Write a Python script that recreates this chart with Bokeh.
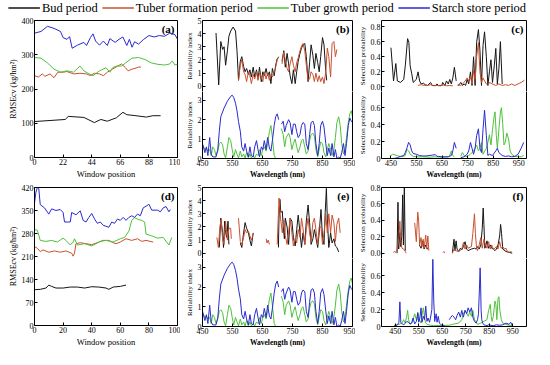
import numpy as np
from bokeh.plotting import figure
from bokeh.models import Range1d, FixedTicker, Label, Legend, LegendItem, LinearAxis
from bokeh.layouts import column, row
from bokeh.embed import file_html
from bokeh.resources import INLINE

nan = float("nan")

# ---------------- data ----------------
SERIES = ["Bud period", "Tuber formation period", "Tuber growth period", "Starch store period"]
COLORS = ["#151515", "#c9502f", "#4dc23b", "#2a2ad0"]

# (a) RMSEcv vs window position
a_bud_x = [0, 23.6, 26, 38, 46, 51, 56, 63, 68, 71, 78, 86, 91, 97]
a_bud_y = [105, 111, 120, 117, 102, 111, 106, 116, 132, 125, 122, 118, 122, 122]
a_form_x = [0, 3, 6, 8, 12, 15, 18, 22, 25, 30, 35, 40, 43, 46, 50, 53, 56, 60, 64, 67, 70, 72, 75, 78, 80, 82]
a_form_y = [239, 235, 244, 237, 244, 233, 249, 249, 251, 244, 246, 244, 239, 246, 244, 239, 249, 258, 267, 273, 262, 253, 258, 261, 264, 264]
a_grow_x = [0, 5, 10, 15, 20, 25, 30, 35, 38, 42, 45, 50, 55, 58, 60, 63, 67, 70, 75, 80, 85, 90, 95, 100, 104, 106, 108, 110]
a_grow_y = [292, 290, 276, 258, 249, 253, 249, 267, 253, 244, 239, 253, 262, 249, 262, 267, 267, 276, 290, 292, 286, 276, 272, 270, 273, 282, 270, 272]
a_star_x = [0, 5, 10, 15, 20, 22, 25, 27, 29, 33, 38, 40, 43, 45, 47, 50, 53, 56, 58, 62, 65, 68, 71, 73, 75, 77, 80, 84, 88, 92, 96, 100, 104, 108, 110]
a_star_y = [363, 368, 383, 377, 368, 350, 345, 353, 319, 328, 336, 327, 350, 361, 340, 328, 340, 327, 347, 336, 345, 352, 327, 345, 322, 338, 331, 345, 356, 352, 356, 354, 363, 359, 345]
a_xticks = [0, 22, 44, 66, 88, 110]
a_yticks = [0, 100, 200, 300, 400]

# (d) RMSEcv vs window position
d_bud_x = [0, 4, 8, 10, 12, 15, 20, 25, 30, 35, 40, 45, 50, 52, 55, 60, 64]
d_bud_y = [109, 110, 114, 123, 119, 114, 114, 117, 117, 114, 118, 117, 114, 110, 117, 119, 123]
d_form_x = [0, 2, 4, 6, 10, 14, 18, 22, 26, 27, 28, 29, 32, 36, 40, 44, 48, 52, 54, 57, 60, 64, 68, 72, 75, 78, 83]
d_form_y = [240, 235, 225, 230, 223, 227, 223, 227, 220, 211, 220, 249, 252, 249, 246, 252, 259, 259, 254, 249, 254, 264, 259, 264, 256, 259, 254]
d_grow_x = [0, 2, 4, 8, 12, 16, 20, 22, 25, 27, 28, 30, 35, 40, 43, 46, 50, 55, 60, 63, 66, 68, 70, 73, 75, 77, 78, 82, 86, 90, 92, 94, 96]
d_grow_y = [292, 290, 259, 256, 259, 254, 266, 259, 245, 254, 264, 245, 249, 242, 249, 256, 259, 254, 264, 268, 287, 320, 328, 322, 320, 315, 278, 273, 266, 268, 256, 245, 268]
d_star_x = [0, 1, 2, 3, 4, 7, 10, 12, 15, 18, 20, 21, 25, 26, 29, 32, 34, 36, 38, 40, 42, 44, 46, 48, 50, 52, 54, 56, 58, 60, 62, 64, 66, 68, 70, 72, 74, 76, 78, 80, 82, 86, 88, 90, 92, 94, 95]
d_star_y = [373, 406, 420, 417, 368, 358, 339, 355, 350, 353, 344, 315, 315, 344, 337, 349, 320, 315, 329, 341, 324, 311, 315, 305, 302, 299, 315, 311, 324, 320, 329, 320, 329, 334, 329, 339, 334, 358, 363, 369, 351, 351, 346, 358, 362, 346, 353]
d_xticks = [0, 20, 40, 60, 80, 100]
d_yticks = [0, 70, 140, 210, 280, 350, 420]

wl_ticks = [450, 550, 650, 750, 850, 950]

# (b) reliability index: upper = bud / tuber formation, lower = tuber growth / starch store
b_bud_nm = [495, 504, 511, 517, 522, 527, 533, 538, 544, 552, 560, 565, 570, 576, 581, 587, 592, 597, 603, 608,
            613, 619, 624, 630, 635, 640, 646, 651, 656, 662, 667, 673, 678, 683, 689, 694, 699, 704, nan,
            715, 721, 726, 732, 737, 742, 748, 753, 759, 764, 769, 775, 780, 785, 791, 796, 802, 807, 812, 818,
            823, 828, 834, 839, 844, 850, 855, 861, 864]
b_bud_ri = [4.05, 0.1, 3.4, 2.8, 3.0, 1.6, 2.7, 3.8, 4.2, 4.5, 4.2, 2.7, 0.45, 1.9, 2.25, 1.5, 1.1, 1.35, 0.9, 1.25,
            0.7, 1.45, 0.7, 1.25, 0.55, 1.45, 0.35, 1.1, 0.8, 1.35, 0.8, 1.1, 0.2, 1.35, 0.8, 1.6, 2.1, 2.2, nan,
            1.9, 2.7, 1.45, 2.5, 1.7, 0.8, 0.2, 1.25, 0.2, 1.1, 1.9, 2.5, 2.9, 3.15, 3.25, 2.25, 0.35, 1.8, 3.15, 2.35,
            1.35, 2.5, 1.8, 1.1, 2.25, 3.7, 3.15, 1.1, 0.45]
b_form_nm = [570, 576, 581, 587, 592, 597, 603, 608, 613, 619, 624, 630, 635, 640, 646, 651, 656, 662, 667, 673,
             678, 683, 689, 694, 699, 704, nan,
             715, 721, 726, 732, 737, 742, 748, 753, 759, 764, 769, 775, 780, 785, 791, 796, 802, 807, 812, 818,
             823, 828, 834, 839, 844, 850, 855, 861, 866, 871, 877, 882, 888, 893, 898]
b_form_ri = [0.45, 1.6, 2.0, 1.1, 0.9, 0.35, 1.1, 0.8, 0.2, 0.9, 0.55, 1.1, 0.45, 1.0, 0.7, 0.35, 1.1, 0.55, 1.0, 0.45,
             0.9, 0.7, 1.1, 1.45, 2.0, 2.25, nan,
             1.7, 2.6, 2.0, 1.35, 1.1, 1.7, 2.25, 1.6, 1.1, 1.8, 2.15, 2.7, 3.05, 3.25, 2.7, 1.6, 0.45, 0.55, 1.1, 0.9,
             0.35, 1.0, 0.35, 0.8, 0.35, 0.7, 0.2, 1.1, 2.9, 2.25, 0.7, 3.25, 3.4, 2.25, 2.8]
b_star_nm = [450, 458, 463, 468, 474, 479, 484, 495, 501, 506, 511, 522, 533, 544, 549, 554, 560, 565, 570, 576,
             581, 587, 592, 597, 603, 608, 613, 619, 624, 630, 635, 640, 646, 651, 656, 662, 667, 673, 678, 683,
             689, 694, 699, 704, nan,
             713, 719, 724, 729, 737, 742, 748, 753, 759, 764, 769, 775, 780, 785, 791, 796, 802, 807, 812, 818,
             823, 828, 834, 839, 844, 850, 855, 861, 866, 871, 877, 882, 888, 893, 898, 904, 909, 914, 920, 925,
             930, 936, 941, 946, 950]
b_star_ri = [0.77, 0.3, 0.6, 0.15, 1.08, 0.23, 0.08, 0.08, 0.46, 1.4, 2.15, 2.6, 2.95, 3.2, 3.26, 3.15, 2.85, 2.45, 1.9, 1.4,
             0.6, 0.38, 0.77, 0.38, 0.08, 0.6, 0.15, 0.08, 0.6, 0.92, 0.46, 0.08, 0.6, 0.46, 0.92, 0.46, 1.08, 0.54, 0.38, 0.92,
             1.7, 2.15, 2.3, 2.0, nan,
             1.77, 1.92, 1.38, 1.7, 2.0, 1.85, 1.23, 1.77, 1.77, 1.38, 1.08, 1.23, 1.7, 1.85, 1.77, 0.77, 0.46, 1.23, 1.85, 1.92,
             1.7, 0.77, 0.15, 0.77, 1.7, 1.92, 1.62, 0.77, 0.15, 0.54, 0.15, 0.77, 0.08, 0.46, 0.0, 0.08, 0.0, 0.3, 0.77, 0.15,
             0.77, 1.7, 2.08, 1.92, 1.85]
b_grow_nm = [450, 458, 463, 468, 474, 479, 484, 490, 495, 501, 506, 511, 517, 522, 527, 533, 538, 544, 549, 554,
             560, 565, 570, 576, 581, 587, 592, 597, 603, 608, 613, 619, 624, 630, 635, 640, 646, 651, 656, 662,
             667, 673, 678, 683, 689, 694, nan,
             713, 719, 724, 729, 737, 742, 748, 753, 759, 764, 769, 775, 780, 785, 791, 796, 802, 807, 812, 818,
             823, 828, 834, 839, 844, 850, 855, 861, 866, 871, 877, 882, 888, 893, 898, 904, 909, 914, 920, 925,
             930, 936, 941, 946, 950]
b_grow_ri = [0.7, 0.46, 0.54, 0.38, 0.46, 0.15, 0.6, 0.46, 0.15, 0.38, 0.77, 0.85, 0.7, 0.23, 0.03, 0.6, 1.08, 0.92, 0.46, 0.08,
             0.46, 0.23, 0.03, 0.38, 0.08, 0.23, 0.03, 0.3, 0.03, 0.23, 0.03, 0.15, 0.03, 0.23, 0.15, 0.46, 0.15, 0.46, 0.6, 0.38,
             0.77, 1.38, 1.7, 1.08, 0.15, 0.0, nan,
             1.54, 1.23, 0.6, 1.08, 1.3, 1.08, 0.46, 0.77, 1.0, 0.6, 0.3, 0.6, 0.92, 1.0, 0.6, 0.23, 0.38, 0.92, 1.23, 1.3,
             1.15, 0.46, 0.08, 0.46, 0.85, 0.77, 0.3, 0.08, 0.46, 0.77, 0.46, 0.15, 0.46, 1.08, 1.85, 2.15, 1.7, 0.77, 0.23, 0.46,
             1.08, 1.85, 2.3, 2.46, 2.15]

# (e) reliability index (lower part identical to (b))
e_bud_nm = [506, 511, 517, 520, 524, 527, 531, 535, 538, nan,
            576, 581, 587, 592, 597, 603, 608, 613, 619, nan,
            703, 705, 708, 711, 716, 719, 723, 726, 732, 737, 742, 748, 753, 759, 764, 769, 775, 780, 785, 791,
            796, 802, 807, 812, 818, 823, 828, 834, 839, 845, 850, 855, 859, 863, 866, 871, 877, 882, 888, 893, 898, 904]
e_bud_ri = [0.44, 2.67, 1.56, 0.44, 2.44, 1.56, 1.2, 2.44, 0.67, nan,
            0.78, 0.44, 1.55, 2.33, 1.9, 1.55, 1.0, 0.55, 1.55, nan,
            0.44, 2.67, 4.1, 3.1, 3.2, 2.1, 1.1, 2.67, 2.0, 0.67, 2.67, 2.44, 1.2, 0.55, 1.8, 2.9, 1.55, 0.44, 1.55, 0.67,
            2.44, 3.67, 2.33, 0.67, 1.1, 1.8, 1.2, 0.44, 1.55, 3.33, 1.2, 0.67, 3.1, 4.93, 2.67, 0.44, 1.55, 0.78, 1.1, 0.55, 0.44, 0.1]
e_form_nm = [498, 503, 508, 512, 517, 522, 527, 533, 538, 544, 546, nan,
             570, 576, 581, 587, 592, 597, 603, 608, 613, 619, nan,
             662, 665, 669, 673, nan,
             699, 705, 710, 716, 721, 726, 732, 737, 742, 748, 753, 759, 764, 769, 775, 780, 785, 791, 796, 802,
             807, 812, 818, 823, 828, 834, 839, 845, 850, 855, 861, 866, 871, 877, 882, 888, 893, 898, 904, 909]
e_form_ri = [1.2, 0.44, 2.0, 2.55, 1.1, 0.67, 2.44, 1.0, 1.9, 1.9, 1.1, nan,
             2.67, 0.9, 0.67, 1.2, 1.8, 1.55, 1.67, 1.33, 1.0, 1.45, nan,
             1.1, 0.78, 1.0, 0.67, nan,
             0.67, 4.2, 2.67, 1.55, 2.55, 1.33, 0.67, 1.55, 2.67, 1.55, 0.55, 1.1, 0.78, 1.8, 1.2, 2.67, 1.9, 0.67, 1.8, 2.67,
             1.55, 0.9, 2.33, 2.67, 1.8, 0.67, 2.0, 2.0, 0.67, 1.55, 2.9, 1.55, 3.0, 1.55, 2.9, 2.33, 0.9, 2.2, 2.67, 1.55]

ri_up_ticks = [0, 1, 2, 3, 4, 5]
ri_up_labels = ["0", "1", "2", "3", "4", "5"]
ri_lo_ticks = [0, 1, 2, 3]
ri_lo_labels = ["0", "1", "2", "3"]

# (c) selection probability
c_bud_nm = [450, 460, 469, 475, 487, 500, 506, 515, 520, 525, 531, 537, 549, 556, 562, 568, 577, 584, 593, 605,
            611, 624, 630, 636, 649, 652, 661, 667, 674, 680, 686, 692, 698, 702, 705, nan,
            711, 717, 723, 730, 736, 742, 748, 754, 761, 767, 773, 779, 785, 792, 798, 804, 810, 816, 823, 829,
            835, 841, 847, 854, 860, 866, 872, 878, 885]
c_bud_sp = [0.52, 0.08, 0.31, 0.08, 0.06, 0.1, 0.28, 0.64, 0.59, 0.28, 0.18, 0.06, 0.1, 0.2, 0.08, 0.04, 0.05, 0.03, 0.02, 0.06,
            0.02, 0.02, 0.04, 0.02, 0.02, 0.06, 0.02, 0.08, 0.04, 0.1, 0.04, 0.12, 0.26, 0.16, 0.08, nan,
            0.02, 0.03, 0.06, 0.02, 0.04, 0.02, 0.1, 0.04, 0.2, 0.02, 0.4, 0.02, 0.59, 0.76, 0.48, 0.02, 0.55, 0.73, 0.4, 0.02,
            0.2, 0.36, 0.06, 0.28, 0.51, 0.04, 0.24, 0.6, 0.04]
c_form_nm = [556, 568, 581, 593, 605, 618, 630, 643, 655, 667, 680, 692, nan,
             711, 723, 736, 748, 754, 761, 767, 773, 779, 785, 792, 798, 804, 810, 816, 823, 829, 835, 847, 860,
             872, 885, 897, 910, 922, 934, 947, 959, 972]
c_form_sp = [0.02, 0.03, 0.02, 0.02, 0.03, 0.015, 0.02, 0.015, 0.025, 0.015, 0.02, 0.015, nan,
             0.03, 0.02, 0.06, 0.12, 0.08, 0.14, 0.04, 0.22, 0.1, 0.4, 0.59, 0.2, 0.06, 0.12, 0.08, 0.04, 0.02, 0.06, 0.04, 0.02,
             0.04, 0.02, 0.03, 0.02, 0.04, 0.02, 0.04, 0.06, 0.09]
c_star_nm = [450, 462, 475, 487, 500, 506, 512, 519, 525, 531, 537, 549, 562, 574, 587, 599, 611, 624, 630, 636,
             649, 661, 674, 686, 692, 698, 705, nan,
             723, 736, 748, 754, 761, 767, 773, 779, 785, 792, 798, 804, 810, 816, 823, 829, 835, 847, 860, 866,
             872, 885, 897, 910, 922, 934, 947, 959, 969]
c_star_sp = [0.0, 0.0, 0.01, 0.025, 0.035, 0.07, 0.12, 0.19, 0.16, 0.09, 0.06, 0.05, 0.035, 0.03, 0.03, 0.035, 0.04, 0.045, 0.025, 0.025,
             0.02, 0.02, 0.02, 0.035, 0.09, 0.19, 0.12, nan,
             0.01, 0.02, 0.05, 0.09, 0.19, 0.12, 0.05, 0.12, 0.27, 0.35, 0.12, 0.07, 0.34, 0.57, 0.27, 0.035, 0.05, 0.035, 0.09, 0.12,
             0.07, 0.035, 0.025, 0.03, 0.02, 0.025, 0.05, 0.12, 0.19]
c_grow_nm = [450, 456, 462, 475, 487, 500, 506, 512, 519, 525, 537, 549, 574, 599, 624, 649, 674, 680, 686, 692, 698, nan,
             723, 729, 736, 748, 761, 773, 785, 792, 798, 804, 810, 823, 829, 835, 841, 847, 854, 857, 862, 866,
             872, 878, 882, 887, 892, 897, 903, 910, 916, 922, 934, 947, 959, 969]
c_grow_sp = [0.035, 0.05, 0.045, 0.035, 0.02, 0.025, 0.035, 0.11, 0.09, 0.05, 0.025, 0.02, 0.02, 0.015, 0.02, 0.015, 0.02, 0.035, 0.09, 0.035, 0.02, nan,
             0.025, 0.07, 0.035, 0.02, 0.05, 0.09, 0.16, 0.09, 0.12, 0.19, 0.05, 0.12, 0.19, 0.28, 0.16, 0.34, 0.51, 0.55, 0.27, 0.12,
             0.34, 0.55, 0.6, 0.41, 0.16, 0.19, 0.3, 0.23, 0.09, 0.05, 0.025, 0.02, 0.02, 0.035]

# (f) selection probability
f_bud_nm = [458, 462, 465, 470, 474, 478, 482, 485, 489, 493, nan,
            553, 560, 567, 573, 580, 587, 591, nan,
            693, 700, 704, 709, 713, 720, 727, 733, 740, 747, 754, 760, 774, 787, 794, 800, 807, 814, 820, 824,
            827, 831, 836, 840, 847, 854, 860, 867, 874, 880, 887, 894, 898, 902, 907, 921, 934, 947]
f_bud_sp = [0.0, 0.62, 0.05, 0.25, 0.08, 0.2, 0.71, 0.1, 0.8, 0.03, nan,
            0.1, 0.06, 0.15, 0.05, 0.1, 0.05, 0.06, nan,
            0.0, 0.17, 0.03, 0.15, 0.05, 0.02, 0.06, 0.04, 0.08, 0.14, 0.05, 0.03, 0.05, 0.06, 0.05, 0.08, 0.05, 0.1, 0.3, 0.55,
            0.35, 0.06, 0.1, 0.15, 0.06, 0.1, 0.06, 0.05, 0.03, 0.05, 0.1, 0.21, 0.35, 0.24, 0.05, 0.02, 0.01, 0.0]
f_form_nm = [442, 446, 453, 459, 466, 470, 474, 479, 486, 493, 497, nan,
             533, 540, 546, 550, 554, 560, 564, 569, 573, 580, 584, 589, 593, nan,
             654, 657, 660, nan,
             693, 700, 707, 720, 733, 740, 747, 754, 760, 774, 780, 787, 791, 796, 800, 807, 814, 820, 827, 834,
             840, 847, 854, 860, 867, 874, 880, 887, 894, 900, 907, 914, 921, 927, 934, 941, 947]
f_form_sp = [0.01, 0.02, 0.01, 0.05, 0.19, 0.39, 0.14, 0.06, 0.05, 0.02, 0.0, nan,
             0.37, 0.14, 0.5, 0.39, 0.1, 0.19, 0.08, 0.17, 0.06, 0.22, 0.05, 0.21, 0.03, nan,
             0.01, 0.02, 0.0, nan,
             0.0, 0.05, 0.03, 0.02, 0.05, 0.13, 0.05, 0.1, 0.06, 0.08, 0.24, 0.48, 0.24, 0.06, 0.03, 0.1, 0.19, 0.06, 0.17, 0.1,
             0.06, 0.14, 0.05, 0.1, 0.05, 0.06, 0.08, 0.05, 0.14, 0.06, 0.08, 0.05, 0.06, 0.02, 0.01, 0.02, 0.01]
f_star_nm = [446, 453, 460, 466, 470, 474, 480, 487, 493, 500, 506, 513, 520, 526, 533, 540, 546, 550, 555, 560,
             564, 570, 575, 580, 585, 590, 596, 600, 606, 610, 614, 618, 624, 628, 633, 638, 645, 652, 660, nan,
             680, 687, 693, 700, 707, 713, 720, 727, 733, 740, 747, 754, 760, 767, 774, 780, 787, 794, 800, 804,
             808, 811, 813, 815, 818, 822, 827, 834, 840, 847, 854, 867, 880, 894, 907, 921, 934, 941, 947]
f_star_sp = [0.01, 0.01, 0.02, 0.05, 0.29, 0.05, 0.03, 0.02, 0.04, 0.06, 0.05, 0.03, 0.04, 0.1, 0.03, 0.06, 0.16, 0.05, 0.1, 0.22,
             0.05, 0.12, 0.08, 0.24, 0.06, 0.1, 0.05, 0.1, 0.2, 0.79, 0.3, 0.06, 0.15, 0.05, 0.12, 0.04, 0.02, 0.01, 0.01, nan,
             0.08, 0.11, 0.13, 0.11, 0.08, 0.13, 0.17, 0.11, 0.19, 0.11, 0.19, 0.15, 0.22, 0.17, 0.22, 0.11, 0.06, 0.04, 0.08, 0.15,
             0.44, 0.69, 0.5, 0.2, 0.08, 0.04, 0.02, 0.015, 0.01, 0.02, 0.015, 0.01, 0.02, 0.015, 0.02, 0.04, 0.025, 0.05, 0.015]
f_grow_nm = [446, 466, 479, 486, 493, 499, 503, 507, 513, 520, 526, 533, 540, 544, 546, 553, 560, 566, 570, 576,
             580, 586, 600, 613, 680, 693, 720, 733, 740, 747, 754, 760, 767, 774, 780, 787, 800, 814, 827, 840,
             847, 854, 858, 862, 867, 874, 878, 882, 887, 891, 895, 901, 907, 921, 934, 947]
f_grow_sp = [0.015, 0.025, 0.04, 0.08, 0.04, 0.12, 0.19, 0.08, 0.025, 0.04, 0.08, 0.15, 0.08, 0.08, 0.17, 0.08, 0.04, 0.17, 0.22, 0.08,
             0.04, 0.025, 0.015, 0.01, 0.015, 0.025, 0.04, 0.08, 0.15, 0.19, 0.15, 0.12, 0.17, 0.12, 0.19, 0.08, 0.025, 0.04, 0.06, 0.08,
             0.19, 0.26, 0.12, 0.06, 0.12, 0.3, 0.26, 0.08, 0.33, 0.35, 0.19, 0.08, 0.04, 0.025, 0.015, 0.01]

sp_up_ticks = [0.0, 0.2, 0.4, 0.6, 0.8]
sp_up_labels = ["0.0", "0.2", "0.4", "0.6", "0.8"]
sp_lo_ticks = [0.0, 0.2, 0.4, 0.6]
sp_lo_labels = ["0", "0.2", "0.4", "0.6"]

# ---------------- styling / layout ----------------
FONT = "Liberation Serif"
TICK_FS = "8px"
W1, W2, W3 = 180, 175, 179
LW = 1.0


def style_axis(ax):
    ax.axis_line_color = "black"
    ax.major_tick_in = 3
    ax.major_tick_out = 0
    ax.minor_tick_line_color = None
    ax.major_tick_line_color = "black"
    ax.major_label_text_font = FONT
    ax.major_label_text_font_size = TICK_FS
    ax.major_label_text_color = "black"
    ax.major_label_standoff = 1
    ax.axis_label_text_font = FONT
    ax.axis_label_text_font_style = "normal"
    ax.axis_label_text_color = "black"
    ax.axis_label_standoff = 1


def bare_axis(side, p):
    ax = LinearAxis(ticker=FixedTicker(ticks=[]), axis_line_color="black",
                    major_tick_in=0, major_tick_out=0, minor_tick_line_color=None,
                    major_label_text_font_size="0px", major_label_standoff=0)
    p.add_layout(ax, side)


def letter(p, txt, x, y):
    p.add_layout(Label(x=x, y=y, x_offset=-3, y_offset=-2, text=txt, text_align="right",
                       text_baseline="top", text_font=FONT, text_font_size="11px",
                       text_font_style="bold", text_color="black"))


def rmse_panel(w, h, xr, yr, xticks, yticks, series, txt, bt, bb):
    p = figure(width=w, height=h, x_range=Range1d(*xr), y_range=Range1d(*yr),
               output_backend="svg", toolbar_location=None,
               min_border_left=34, min_border_right=3, min_border_top=bt, min_border_bottom=bb)
    p.xgrid.visible = False
    p.ygrid.visible = False
    p.outline_line_color = "black"
    for ax in p.xaxis + p.yaxis:
        style_axis(ax)
    p.xaxis.ticker = FixedTicker(ticks=xticks)
    p.yaxis.ticker = FixedTicker(ticks=yticks)
    p.xaxis.axis_label = "Window position"
    p.yaxis.axis_label = "RMSEcv (kg/hm²)"
    p.xaxis.axis_label_text_font_size = "8.5px"
    p.yaxis.axis_label_text_font_size = "8px"
    for (x, y), c in zip(series, COLORS):
        p.line(np.array(x, dtype=float), np.array(y, dtype=float), line_color=c, line_width=LW)
    letter(p, txt, xr[1], yr[1])
    return p


def spectral_panel(w, bl, br, bt, bb, frame_h, xr, up, lo, up_ticks, up_labels, lo_ticks, lo_labels,
                   upper, lower, ylab, txt):
    fu = frame_h // 2
    fl = frame_h - fu
    xrange_ = Range1d(*xr)
    # upper half
    pu = figure(width=w, height=bt + fu, x_range=xrange_, y_range=Range1d(*up),
                output_backend="svg", toolbar_location=None, x_axis_location=None,
                min_border_left=bl, min_border_right=br, min_border_top=bt, min_border_bottom=0)
    # lower half
    pl = figure(width=w, height=fl + bb, x_range=xrange_, y_range=Range1d(*lo),
                output_backend="svg", toolbar_location=None,
                min_border_left=bl, min_border_right=br, min_border_top=0, min_border_bottom=bb)
    for p, ticks, labels in ((pu, up_ticks, up_labels), (pl, lo_ticks, lo_labels)):
        p.grid.visible = False
        p.outline_line_color = None
        for ax in p.xaxis + p.yaxis:
            style_axis(ax)
        p.yaxis.ticker = FixedTicker(ticks=[float(t) for t in ticks])
        p.yaxis.major_label_overrides = {float(t): s for t, s in zip(ticks, labels)}
        p.yaxis.axis_label = ylab
        p.yaxis.axis_label_text_font_size = "7px"
        bare_axis("right", p)
    bare_axis("above", pu)
    pl.xaxis.ticker = FixedTicker(ticks=wl_ticks)
    pl.xaxis.axis_label = "Wavelength (nm)"
    pl.xaxis.axis_label_text_font_size = "7.5px"
    pl.xaxis.axis_label_text_font_style = "bold"

    for (x, y), c in upper:
        pu.line(np.array(x, dtype=float), np.array(y, dtype=float), line_color=c, line_width=LW)
    for (x, y), c in lower:
        pl.line(np.array(x, dtype=float), np.array(y, dtype=float), line_color=c, line_width=LW)
    letter(pu, txt, xr[1], up[1])
    return column(pu, pl, spacing=0)


LEG_H = 15
RT1, RB1, F1 = 5, 18, 143
RT2, RB2, F2 = 6, 20, 142

pa = rmse_panel(W1, RT1 + F1 + RB1, (0, 110), (0, 400), a_xticks, a_yticks,
                [(a_bud_x, a_bud_y), (a_form_x, a_form_y), (a_grow_x, a_grow_y), (a_star_x, a_star_y)],
                "(a)", RT1, RB1)
pd = rmse_panel(W1, RT2 + F2 + RB2, (0, 100), (0, 420), d_xticks, d_yticks,
                [(d_bud_x, d_bud_y), (d_form_x, d_form_y), (d_grow_x, d_grow_y), (d_star_x, d_star_y)],
                "(d)", RT2, RB2)

RI_UP = (-0.4, 5)
RI_LO = (0, 3.45)
pb = spectral_panel(W2, 22, 3, RT1, RB1, F1, (450, 950), RI_UP, RI_LO,
                    ri_up_ticks, ri_up_labels, ri_lo_ticks, ri_lo_labels,
                    [((b_bud_nm, b_bud_ri), COLORS[0]), ((b_form_nm, b_form_ri), COLORS[1])],
                    [((b_grow_nm, b_grow_ri), COLORS[2]), ((b_star_nm, b_star_ri), COLORS[3])],
                    "Reliability index", "(b)")
pe = spectral_panel(W2, 22, 3, RT2, RB2, F2, (450, 950), RI_UP, RI_LO,
                    ri_up_ticks, ri_up_labels, ri_lo_ticks, ri_lo_labels,
                    [((e_bud_nm, e_bud_ri), COLORS[0]), ((e_form_nm, e_form_ri), COLORS[1])],
                    [((b_grow_nm, b_grow_ri), COLORS[2]), ((b_star_nm, b_star_ri), COLORS[3])],
                    "Reliability index", "(e)")
pc = spectral_panel(W3, 24, 8, RT1, RB1, F1, (413, 980), (-0.06, 0.88), (0, 0.79),
                    sp_up_ticks, sp_up_labels, sp_lo_ticks, sp_lo_labels,
                    [((c_bud_nm, c_bud_sp), COLORS[0]), ((c_form_nm, c_form_sp), COLORS[1])],
                    [((c_grow_nm, c_grow_sp), COLORS[2]), ((c_star_nm, c_star_sp), COLORS[3])],
                    "Selection probability", "(c)")
pf = spectral_panel(W3, 24, 8, RT2, RB2, F2, (392, 1008), (-0.065, 0.8), (0, 0.8),
                    sp_up_ticks, sp_up_labels, sp_lo_ticks, sp_lo_labels,
                    [((f_bud_nm, f_bud_sp), COLORS[0]), ((f_form_nm, f_form_sp), COLORS[1])],
                    [((f_grow_nm, f_grow_sp), COLORS[2]), ((f_star_nm, f_star_sp), COLORS[3])],
                    "Selection probability", "(f)")

# legend strip
leg = figure(width=W1 + W2 + W3, height=LEG_H, x_range=Range1d(0, 1), y_range=Range1d(0, 1),
             output_backend="svg", toolbar_location=None, min_border=0,
             x_axis_type=None, y_axis_type=None, outline_line_color=None)
items = []
for name, c in zip(SERIES, COLORS):
    r = leg.line(x=np.array([nan]), y=np.array([nan]), line_color=c, line_width=1.4)
    items.append(LegendItem(label=name, renderers=[r]))
legend = Legend(items=items, orientation="horizontal", location="center",
                border_line_color=None, background_fill_alpha=0,
                label_text_font=FONT, label_text_font_size="12.5px", label_text_color="black",
                glyph_width=32, glyph_height=10, label_standoff=2, spacing=4,
                padding=0, margin=0)
leg.add_layout(legend, "center")

layout = column(leg, row(pa, pb, pc, spacing=0), row(pd, pe, pf, spacing=0), spacing=0)
open("out.html", "w").write(file_html(layout, INLINE))
